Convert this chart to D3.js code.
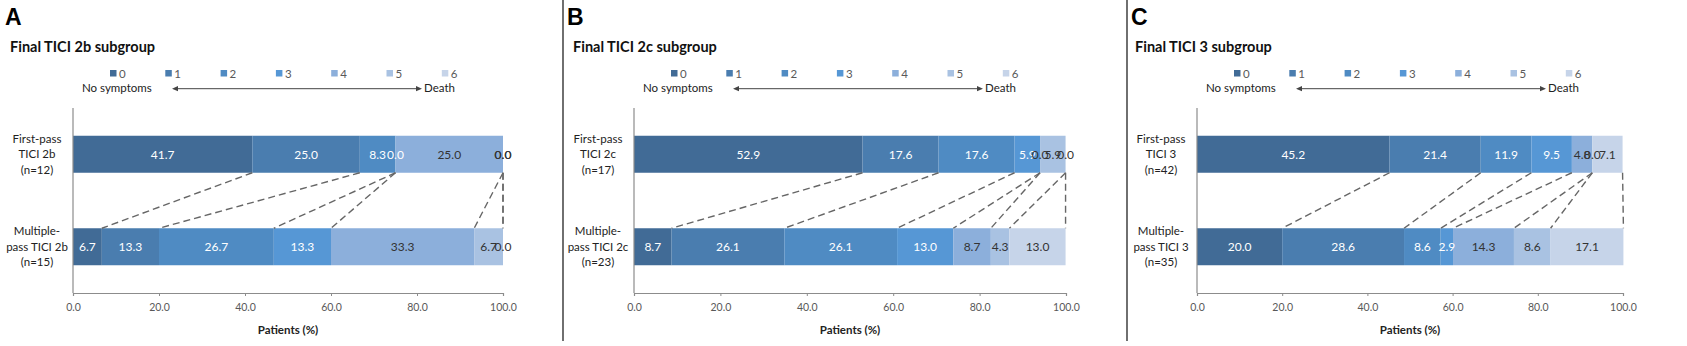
<!DOCTYPE html>
<html>
<head>
<meta charset="utf-8">
<script src="https://cdn.jsdelivr.net/npm/d3@7"></script>
<style>
  body { margin: 0; background: #fff; }
  svg { display: block; font-family: Lato, "Open Sans", sans-serif; }
</style>
</head>
<body>
<svg id="chart" width="1687" height="346"></svg>
<script>
// mRS categories 0..6
const grades = ["0", "1", "2", "3", "4", "5", "6"];
const colors = ["#416b96", "#4a7daf", "#4f8bc3", "#5697d5", "#8cafdb", "#a9c2e2", "#c6d4e9"];

const panelLetters = ["A", "B", "C"];
const panelTitles = ["Final TICI 2b subgroup", "Final TICI 2c subgroup", "Final TICI 3 subgroup"];

// row labels (one array of lines per row)
const rowLabelsA = [["First-pass", "TICI 2b", "(n=12)"], ["Multiple-", "pass TICI 2b", "(n=15)"]];
const rowLabelsB = [["First-pass", "TICI 2c", "(n=17)"], ["Multiple-", "pass TICI 2c", "(n=23)"]];
const rowLabelsC = [["First-pass", "TICI 3", "(n=42)"], ["Multiple-", "pass TICI 3", "(n=35)"]];

// percentages per grade
const firstPassA = [41.7, 25.0, 8.3, 0.0, 25.0, 0.0, 0.0];
const multiPassA = [6.7, 13.3, 26.7, 13.3, 33.3, 6.7, 0.0];
const firstPassB = [52.9, 17.6, 17.6, 5.9, 0.0, 5.9, 0.0];
const multiPassB = [8.7, 26.1, 26.1, 13.0, 8.7, 4.3, 13.0];
const firstPassC = [45.2, 21.4, 11.9, 9.5, 4.8, 0.0, 7.1];
const multiPassC = [20.0, 28.6, 8.6, 2.9, 14.3, 8.6, 17.1];

const xTicks = [0, 20, 40, 60, 80, 100];

// layout
const panelLeft = [0, 563, 1127];
const plotRange = [[73, 503], [634, 1066], [1197, 1623]];
const panels = [
  { rows: rowLabelsA, series: [firstPassA, multiPassA] },
  { rows: rowLabelsB, series: [firstPassB, multiPassB] },
  { rows: rowLabelsC, series: [firstPassC, multiPassC] }
];

const svg = d3.select("#chart");

// panel dividers
svg.selectAll(".divider")
  .data([563, 1127])
  .join("line")
  .attr("x1", d => d).attr("x2", d => d)
  .attr("y1", 0).attr("y2", 341)
  .attr("stroke", "#222").attr("stroke-width", 1.3);

panels.forEach((p, pi) => {
  const g = svg.append("g");
  const left = panelLeft[pi];
  const [x0, x1] = plotRange[pi];

  const x = d3.scaleLinear().domain([0, 100]).range([x0, x1]);
  const y = d3.scaleBand().domain([0, 1]).range([108, 293]).paddingInner(0.6).paddingOuter(0.3);

  // letter + title
  g.append("text")
    .attr("x", left + (pi === 0 ? 5 : 4)).attr("y", 25)
    .style("font-family", "Liberation Sans, Arial, sans-serif")
    .style("font-weight", "bold").style("font-size", "23px")
    .attr("fill", "#000")
    .text(panelLetters[pi]);
  g.append("text")
    .attr("x", left + (pi === 2 ? 8 : 10)).attr("y", 52)
    .style("font-weight", "bold").style("font-size", "14.5px")
    .attr("fill", "#111")
    .text(panelTitles[pi]);

  // legend
  const legStep = 55.3;
  const leg = g.selectAll(".leg")
    .data(grades)
    .join("g")
    .attr("transform", (d, i) => `translate(${x0 + 37 + i * legStep},0)`);
  leg.append("rect")
    .attr("x", 0).attr("y", 70).attr("width", 6.5).attr("height", 6.5)
    .attr("fill", (d, i) => colors[i]);
  leg.append("text")
    .attr("x", 9).attr("y", 77.5)
    .style("font-size", "11.5px").attr("fill", "#595959")
    .text(d => d);

  g.append("text")
    .attr("x", x0 + 9).attr("y", 92)
    .style("font-size", "11.5px").attr("fill", "#222")
    .text("No symptoms");
  g.append("text")
    .attr("x", x0 + 351).attr("y", 92)
    .style("font-size", "11.5px").attr("fill", "#222")
    .text("Death");

  const ay = 88.7, ax0 = x0 + 99, ax1 = x0 + 349;
  g.append("line")
    .attr("x1", ax0 + 4).attr("x2", ax1 - 4).attr("y1", ay).attr("y2", ay)
    .attr("stroke", "#444").attr("stroke-width", 1);
  g.append("path")
    .attr("d", `M${ax0},${ay} l6,-2.6 v5.2 z M${ax1},${ay} l-6,-2.6 v5.2 z`)
    .attr("fill", "#444");

  // stacked bars
  p.series.forEach((vals, ri) => {
    let acc = 0;
    const segs = vals.map((v, i) => {
      const s = { i, v, start: acc, end: acc + v };
      acc += v;
      return s;
    });
    const row = g.append("g");
    row.selectAll("rect")
      .data(segs)
      .join("rect")
      .attr("x", d => x(d.start))
      .attr("width", d => Math.max(0, x(d.end) - x(d.start)))
      .attr("y", y(ri))
      .attr("height", y.bandwidth())
      .attr("fill", d => colors[d.i]);
    row.selectAll("text")
      .data(segs)
      .join("text")
      .attr("x", d => x((d.start + d.end) / 2))
      .attr("y", y(ri) + y.bandwidth() / 2 + 4.3)
      .attr("text-anchor", "middle")
      .style("font-size", "12px")
      .attr("fill", d => d.i < 4 ? "#fff" : "#333")
      .text(d => d3.format(".1f")(d.v));
    p.series[ri].segs = segs;
  });

  // dashed connectors between cumulative ends
  const top = p.series[0].segs, bot = p.series[1].segs;
  g.selectAll(".conn")
    .data(d3.range(grades.length))
    .join("line")
    .attr("x1", i => x(top[i].end))
    .attr("y1", y(0) + y.bandwidth())
    .attr("x2", i => x(bot[i].end))
    .attr("y2", y(1))
    .attr("stroke", "#666").attr("stroke-width", 1.4)
    .attr("stroke-dasharray", "7,4");

  // axes
  g.append("line")
    .attr("x1", x0).attr("x2", x0).attr("y1", 108).attr("y2", 293)
    .attr("stroke", "#8c8c8c").attr("stroke-width", 1.2);

  const xAxis = g.append("g")
    .attr("transform", "translate(0,293)")
    .call(d3.axisBottom(x).tickValues(xTicks).tickFormat(d3.format(".1f")).tickSize(3).tickPadding(8));
  xAxis.select(".domain").attr("stroke", "#8c8c8c").attr("stroke-width", 1.2);
  xAxis.selectAll(".tick line").attr("stroke", "#8c8c8c");
  xAxis.selectAll("text")
    .style("font-family", "Lato, sans-serif")
    .style("font-size", "10.5px").attr("fill", "#595959");

  g.append("text")
    .attr("x", (x0 + x1) / 2).attr("y", 334)
    .attr("text-anchor", "middle")
    .style("font-weight", "bold").style("font-size", "11.5px")
    .attr("fill", "#222")
    .text("Patients (%)");

  // row labels
  p.rows.forEach((lines, ri) => {
    const cy = y(ri) + y.bandwidth() / 2;
    g.append("text")
      .attr("text-anchor", "middle")
      .style("font-size", "11.5px").attr("fill", "#222")
      .selectAll("tspan")
      .data(lines)
      .join("tspan")
      .attr("x", x0 - 36)
      .attr("y", (d, k) => cy + 4 + (k - 1) * 15.3)
      .text(d => d);
  });
});
</script>
</body>
</html>
